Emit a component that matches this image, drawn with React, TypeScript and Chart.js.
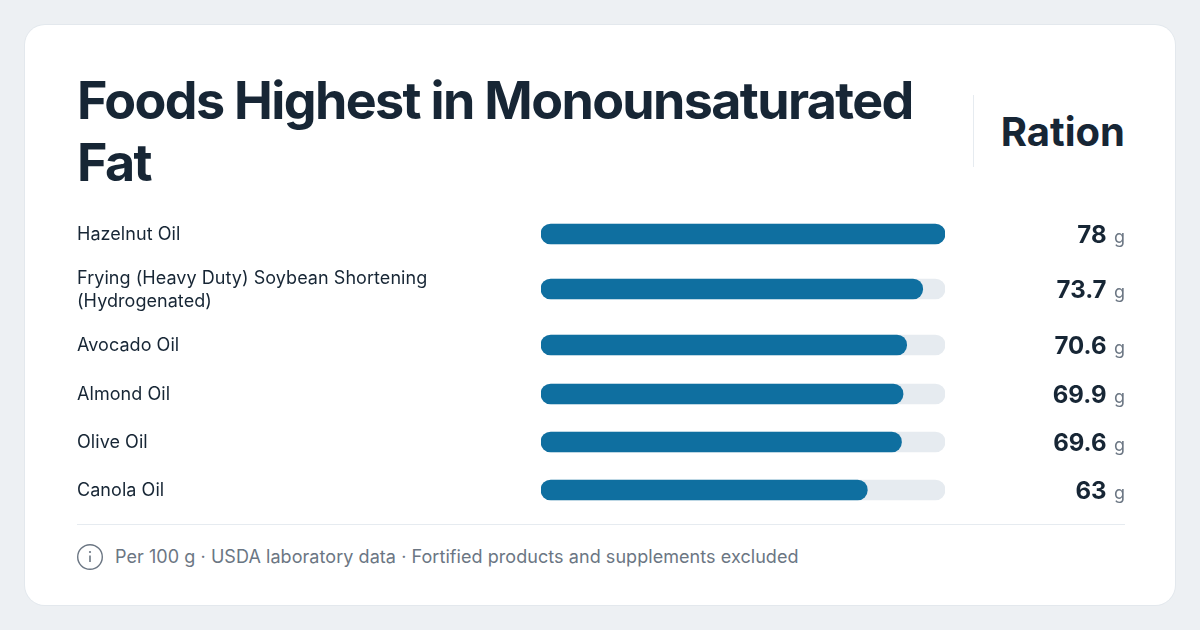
import React, { useEffect, useRef } from "react";
import { Chart, registerables, CategoryScale } from "chart.js";
Chart.register(...registerables);

const categories = ["Hazelnut Oil", "Frying (Heavy Duty) Soybean Shortening (Hydrogenated)", "Avocado Oil", "Almond Oil", "Olive Oil", "Canola Oil"];
const labelLines = [["Hazelnut Oil"], ["Frying (Heavy Duty) Soybean Shortening", "(Hydrogenated)"], ["Avocado Oil"], ["Almond Oil"], ["Olive Oil"], ["Canola Oil"]];
const values = [78, 73.7, 70.6, 69.9, 69.6, 63];
const trackValues = [78, 78, 78, 78, 78, 78];
const maxValue = 78;
const unit = "g";
const rowHeights = [48, 62, 50, 48, 48, 48];
const FONT = "Inter, 'Noto Sans', sans-serif";
const INK = "#172635";
const MUTED = "#6b7683";

// Category scale whose rows follow the height of their labels
class RowScale extends CategoryScale {
  static id = "rowScale";
  static defaults = {};
  getPixelForValue(value: any) {
    const i = typeof value === "number" ? value : categories.indexOf(value);
    const total = rowHeights.reduce((a, b) => a + b, 0);
    let acc = 0;
    for (let k = 0; k < i; k++) acc += rowHeights[k];
    return (this as any).top + ((acc + rowHeights[i] / 2) / total) * (this as any).height;
  }
}
Chart.register(RowScale as any);

export default function App() {
  const ref = useRef<HTMLCanvasElement>(null);
  useEffect(() => {
    const overlay = {
      id: "overlay",
      afterDatasetsDraw(c: any) {
        const ctx = c.ctx;
        ctx.save();
        ctx.textBaseline = "middle";
        categories.forEach((_, i) => {
          const y = c.scales.y.getPixelForValue(i);
          ctx.fillStyle = INK;
          ctx.font = `400 18px ${FONT}`;
          ctx.letterSpacing = "0.05px";
          ctx.textAlign = "left";
          const ls = labelLines[i];
          ls.forEach((l: string, k: number) => ctx.fillText(l, 77, y + 1 + (k - (ls.length - 1) / 2) * 23));
          ctx.letterSpacing = "0px";
          ctx.fillStyle = MUTED;
          ctx.font = `400 18px ${FONT}`;
          ctx.textAlign = "right";
          ctx.fillText(unit, 1125, y + 4);
          ctx.fillStyle = INK;
          ctx.font = `700 24px ${FONT}`;
          ctx.fillText(String(values[i]), 1106.5, y + 2);
        });
        ctx.restore();
      },
    };
    const chart = new Chart(ref.current!, {
      type: "bar",
      data: {
        labels: categories,
        datasets: [
          { data: trackValues, backgroundColor: "#e6ebf0", borderRadius: 10, borderSkipped: false, barThickness: 20, grouped: false, order: 2 },
          { data: values, backgroundColor: "#0f6fa0", borderRadius: 10, borderSkipped: false, barThickness: 20, grouped: false, order: 1 },
        ],
      },
      options: {
        indexAxis: "y",
        animation: false,
        responsive: false,
        layout: { padding: { left: 541, right: 255, top: 0, bottom: 0 } },
        plugins: { legend: { display: false }, tooltip: { enabled: false } },
        scales: {
          x: { type: "linear", min: 0, max: maxValue, display: false },
          y: { type: "rowScale", display: false, offset: true },
        },
      },
      plugins: [overlay],
    } as any);
    return () => chart.destroy();
  }, []);
  return (
    <div style={{ position: "fixed", inset: 0, width: 1200, height: 630, background: "#edf0f3", fontFamily: FONT, overflow: "hidden" }}>
      <div style={{ position: "absolute", left: 25, top: 25, width: 1150, height: 580, background: "#fff", borderRadius: 20, boxShadow: "0 0 0 1px #e3e8ed" }} />
      <div style={{ position: "absolute", left: 77, top: 70, width: 880, fontSize: 52, lineHeight: "62px", fontWeight: 700, color: INK, letterSpacing: -1.65 }}>Foods Highest in Monounsaturated Fat</div>
      <div style={{ position: "absolute", left: 973, top: 95, width: 1, height: 72, background: "#e6ebf0" }} />
      <div style={{ position: "absolute", right: 75, top: 108, fontSize: 40, lineHeight: "48px", fontWeight: 700, color: INK }}>Ration</div>
      <canvas ref={ref} width={1200} height={304} style={{ position: "absolute", left: 0, top: 210, display: "block" }} />
      <div style={{ position: "absolute", left: 77, top: 524, width: 1048, height: 1, background: "#e6ebf0" }} />
      <svg style={{ position: "absolute", left: 77, top: 544 }} width="26" height="26" viewBox="0 0 26 26"><circle cx="13" cy="13" r="12.3" fill="none" stroke={MUTED} strokeWidth="1.4" /><line x1="13" y1="11.5" x2="13" y2="18" stroke={MUTED} strokeWidth="1.6" /><circle cx="13" cy="8" r="1.1" fill={MUTED} /></svg>
      <div style={{ position: "absolute", left: 115, top: 545, fontSize: 18, lineHeight: "24px", color: MUTED, letterSpacing: 0.06, whiteSpace: "nowrap" }}>Per 100 g · USDA laboratory data · Fortified products and supplements excluded</div>
    </div>
  );
}
